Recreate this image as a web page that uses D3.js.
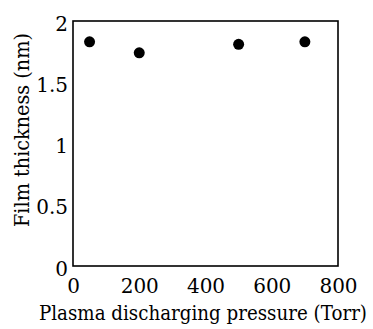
<!DOCTYPE html>
<html>
  <head>
    <meta charset="utf-8">
    <title>Film thickness vs pressure</title>
    <script src="https://d3js.org/d3.v7.min.js"></script>
    <style>
      body { margin: 0; background: #fff; }
      svg text { font-family: "DejaVu Serif", serif !important; fill: #000; }
      .dot { fill: #000; }
    </style>
  </head>
  <body>
    <svg width="373" height="329"></svg>

    <script>
      // data
      const pressure = [50, 200, 500, 700];        // Torr
      const thickness = [1.83, 1.74, 1.81, 1.83];  // nm
      const xTicks = [0, 200, 400, 600, 800];
      const yTicks = [0, 0.5, 1, 1.5, 2];

      const plotLeft = 73, plotTop = 21, plotRight = 338, plotBottom = 266;

      let xScale = d3.scaleLinear().domain([0, 800]).range([plotLeft, plotRight]);
      let yScale = d3.scaleLinear().domain([0, 2]).range([plotBottom, plotTop]);

      let svg = d3.select("svg");

      // frame
      svg.append("rect")
        .attr("x", plotLeft)
        .attr("y", plotTop)
        .attr("width", plotRight - plotLeft)
        .attr("height", plotBottom - plotTop)
        .attr("fill", "none")
        .attr("stroke", "#000")
        .attr("stroke-width", 1.6);

      // axes, labels only (no tick marks in the original)
      svg.append("g")
        .attr("transform", "translate(0," + plotBottom + ")")
        .call(d3.axisBottom(xScale).tickValues(xTicks).tickSize(0).tickPadding(13).tickFormat(d3.format("d")))
        .call(g => g.select(".domain").remove())
        .selectAll("text")
          .attr("font-size", 20);

      svg.append("g")
        .attr("transform", "translate(" + plotLeft + ",0)")
        .call(d3.axisLeft(yScale).tickValues(yTicks).tickSize(0).tickPadding(5).tickFormat(d => d))
        .call(g => g.select(".domain").remove())
        .selectAll("text")
          .attr("font-size", 20)
          .attr("dy", "0.45em");

      // dots
      svg.selectAll(".dot")
        .data(pressure.map((p, i) => ({ p: p, t: thickness[i] })))
        .enter().append("circle")
          .attr("class", "dot")
          .attr("cx", d => xScale(d.p))
          .attr("cy", d => yScale(d.t))
          .attr("r", 5.5);

      // axis titles
      svg.append("text")
        .attr("text-anchor", "middle")
        .attr("x", 203)
        .attr("y", 320)
        .attr("font-size", 20)
        .attr("textLength", 328)
        .attr("lengthAdjust", "spacingAndGlyphs")
        .text("Plasma discharging pressure (Torr)");

      svg.append("text")
        .attr("text-anchor", "middle")
        .attr("transform", "rotate(-90)")
        .attr("x", -130)
        .attr("y", 29)
        .attr("font-size", 21)
        .attr("textLength", 194)
        .attr("lengthAdjust", "spacingAndGlyphs")
        .text("Film thickness (nm)");
    </script>
  </body>
</html>
